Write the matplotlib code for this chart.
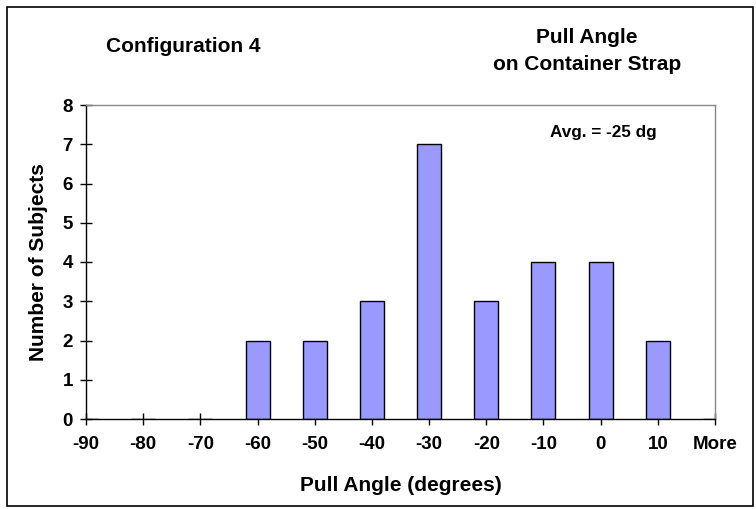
import numpy as np
import matplotlib
matplotlib.use('Agg')
import matplotlib.pyplot as plt
from matplotlib.patches import Rectangle

plt.rcParams['font.family'] = ['Liberation Sans', 'DejaVu Sans']
plt.rcParams['font.weight'] = 'bold'

# histogram bins and counts
bins = ['-90', '-80', '-70', '-60', '-50', '-40', '-30', '-20', '-10', '0', '10', 'More']
counts = [0, 0, 0, 2, 2, 3, 7, 3, 4, 4, 2, 0]
yticks = [0, 1, 2, 3, 4, 5, 6, 7, 8]

W, H = 756, 509
fig = plt.figure(figsize=(W / 100, H / 100), dpi=100)
ax = fig.add_axes([86 / W, 1 - 419 / H, (715 - 86) / W, (419 - 105) / H])

x = np.arange(len(bins))
ax.bar(x, counts, width=0.42, color='#9999ff', edgecolor='black', linewidth=1.0, zorder=3)

ax.set_xlim(0, len(bins) - 1)
ax.set_ylim(0, 8)
ax.set_xticks(x)
ax.set_xticklabels(bins)
ax.set_yticks(yticks)
ax.tick_params(axis='both', direction='inout', length=9, width=1, labelsize=13.5)
ax.tick_params(axis='x', pad=8)
ax.tick_params(axis='y', pad=5)
for lab in ax.get_xticklabels() + ax.get_yticklabels():
    lab.set_fontweight('bold')

ax.spines['left'].set_color('black')
ax.spines['bottom'].set_color('black')
ax.spines['top'].set_color('#888888')
ax.spines['right'].set_color('#888888')
for s in ax.spines.values():
    s.set_linewidth(1.0)
    s.set_zorder(4)

ax.set_xlabel('Pull Angle (degrees)', fontsize=15, fontweight='bold')
ax.set_ylabel('Number of Subjects', fontsize=15, fontweight='bold')
ax.xaxis.set_label_coords(0.5, -0.213)
ax.yaxis.set_label_coords(-0.075, 0.5)
ax.xaxis.label.set_va('center')
ax.yaxis.label.set_va('center')

fig.text(183 / W, 1 - 46 / H, 'Configuration 4', ha='center', va='center',
         fontsize=15, fontweight='bold')
fig.text(587 / W, 1 - 51 / H, 'Pull Angle\non Container Strap', ha='center', va='center',
         fontsize=15, fontweight='bold', linespacing=1.55)
ax.text(0.823, 0.914, 'Avg. = -25 dg', transform=ax.transAxes, ha='center', va='center',
        fontsize=12.3, fontweight='bold')

fig.patches.append(Rectangle((7 / W, 3 / H), 746 / W, 499 / H, transform=fig.transFigure,
                             fill=False, edgecolor='black', linewidth=1.2))

fig.savefig('out.png', dpi=100)
